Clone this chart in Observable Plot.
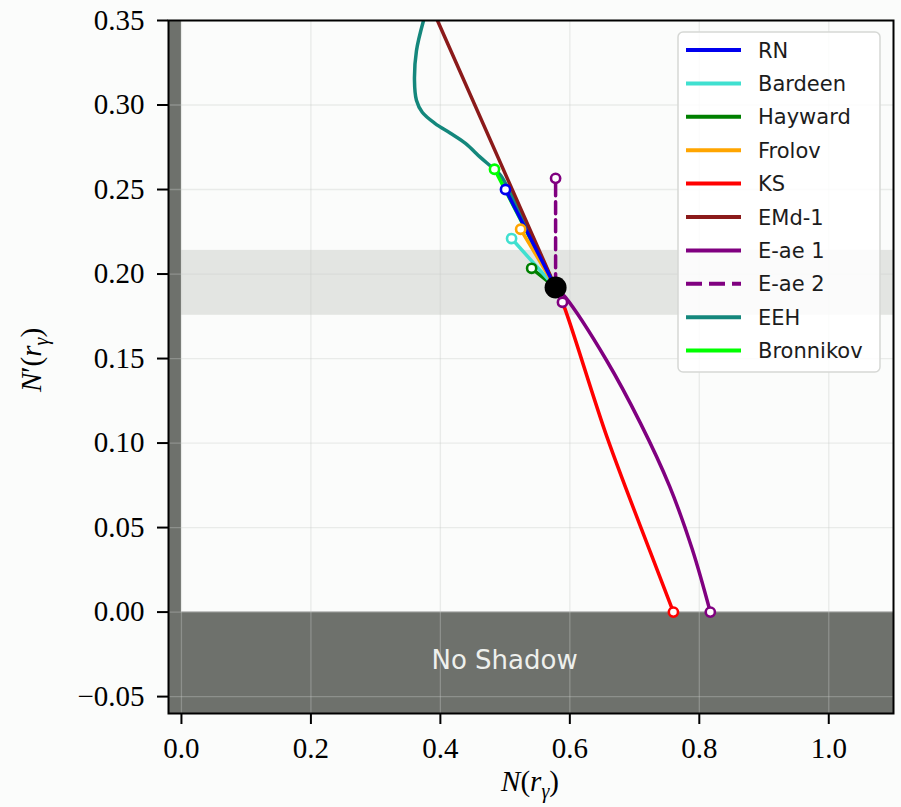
<!DOCTYPE html>
<html>
<head>
<meta charset="utf-8">
<script src="https://cdn.jsdelivr.net/npm/d3@7"></script>
<script src="https://cdn.jsdelivr.net/npm/@observablehq/plot@0.6"></script>
<style>
  html, body { margin: 0; padding: 0; background: #fbfcfb; }
  #chart { width: 901px; height: 807px; }
  #chart svg g[aria-label="x-axis tick label"] text,
  #chart svg g[aria-label="y-axis tick label"] text,
  #chart svg g[aria-label="x-axis tick label"],
  #chart svg g[aria-label="y-axis tick label"] {
    font-family: "Liberation Serif", "DejaVu Serif", serif !important;
    font-size: 29px !important;
  }
</style>
</head>
<body>
<div id="chart"></div>
<script>
// ---- data ----
const seriesNames  = ["RN", "Bardeen", "Hayward", "Frolov", "KS", "EMd-1", "E-ae 1", "E-ae 2", "EEH", "Bronnikov"];
const seriesColors = ["#0000ee", "#40e0d0", "#008000", "#ffa500", "#ff0000", "#8b1a1a", "#800080", "#800080", "#14877c", "#00ff00"];
const seriesDashed = [false, false, false, false, false, false, false, true, false, false];

// [N, N'] points
const RN        = [[0.578, 0.192], [0.5006, 0.250]];
const Bardeen   = [[0.578, 0.192], [0.510, 0.221]];
const Hayward   = [[0.578, 0.192], [0.541, 0.2034]];
const Frolov    = [[0.578, 0.192], [0.524, 0.2265]];
const KS        = [[0.578, 0.192], [0.589, 0.183], [0.658, 0.1029], [0.725, 0.0349], [0.760, 0.0]];
const EMd1      = [[0.578, 0.192], [0.3955, 0.350]];
const Eae1      = [[0.578, 0.192], [0.593, 0.1863], [0.6566, 0.149], [0.709, 0.1118], [0.754, 0.0745], [0.789, 0.0373], [0.817, 0.0]];
const Eae2      = [[0.5886, 0.1833], [0.578, 0.192], [0.578, 0.2566]];
const EEH       = [[0.578, 0.192], [0.539, 0.223], [0.493, 0.2584], [0.480, 0.263], [0.4619, 0.269], [0.4388, 0.2773],
                   [0.4156, 0.2833], [0.392, 0.289], [0.372, 0.2957], [0.363, 0.3028], [0.360, 0.3146], [0.363, 0.332], [0.374, 0.350]];
const Bronnikov = [[0.578, 0.192], [0.4836, 0.262]];

const commonPoint = [0.578, 0.192];
const bandLow = 0.1756, bandHigh = 0.214;
const xDomain = [-0.02, 1.1];
const yDomain = [-0.06, 0.35];
const xTicks = [0.0, 0.2, 0.4, 0.6, 0.8, 1.0];
const yTicks = [-0.05, 0.0, 0.05, 0.10, 0.15, 0.20, 0.25, 0.30, 0.35];
const shadowLabel = "No Shadow";
const shadowLabelPos = [0.5, -0.0285];

// ---- build ----
const seriesData = [RN, Bardeen, Hayward, Frolov, KS, EMd1, Eae1, Eae2, EEH, Bronnikov];
const series = seriesNames.map((name, i) => ({
  name, color: seriesColors[i], dashed: seriesDashed[i],
  pts: seriesData[i].map(([x, y]) => ({x, y}))
}));
const byName = Object.fromEntries(series.map(s => [s.name, s]));
const drawOrder = ["EEH", "Bronnikov", "EMd-1", "Hayward", "Bardeen", "Frolov", "RN", "KS", "E-ae 1", "E-ae 2"];

const lineMarks = drawOrder.map(n => {
  const s = byName[n];
  return Plot.line(s.pts, {
    x: "x", y: "y", stroke: s.color, strokeWidth: 3.5,
    strokeDasharray: s.dashed ? "12,6" : null,
    curve: s.pts.length > 3 ? "catmull-rom" : "linear", clip: true
  });
});

// open-circle end markers: last point of every series, plus first point of E-ae 2
const endMarkers = [];
series.forEach(s => {
  const p = s.pts[s.pts.length - 1];
  if (p.y < yDomain[1] - 1e-6) endMarkers.push({x: p.x, y: p.y, c: s.color});
  if (s.name === "E-ae 2") endMarkers.push({x: s.pts[0].x, y: s.pts[0].y, c: s.color});
});

const shade = [
  {x1: xDomain[0], x2: xDomain[1], y1: yDomain[0], y2: 0},
  {x1: xDomain[0], x2: 0, y1: yDomain[0], y2: yDomain[1]}
];
const band = [{x1: xDomain[0], x2: xDomain[1], y1: bandLow, y2: bandHigh}];

const svg = Plot.plot({
  width: 901, height: 807,
  marginLeft: 168, marginRight: 8, marginTop: 20, marginBottom: 94,
  x: {domain: xDomain},
  y: {domain: yDomain},
  marks: [
    Plot.frame({fill: "#fbfcfb", stroke: "none"}),
    Plot.rect(band, {x1: "x1", x2: "x2", y1: "y1", y2: "y2", fill: "#e3e5e2"}),
    Plot.rect(shade, {x1: "x1", x2: "x2", y1: "y1", y2: "y2", fill: "#6e716c"}),
    Plot.gridX(xTicks, {stroke: "#c9ccc8", strokeOpacity: 0.35, strokeWidth: 1.3}),
    Plot.gridY(yTicks, {stroke: "#c9ccc8", strokeOpacity: 0.35, strokeWidth: 1.3}),
    ...lineMarks,
    Plot.dot([commonPoint], {x: d => d[0], y: d => d[1], r: 11, fill: "black", stroke: "none"}),
    Plot.dot(endMarkers, {x: "x", y: "y", r: 4.6, fill: "white", stroke: "c", strokeWidth: 2.6}),
    Plot.frame({stroke: "black", strokeWidth: 2}),
    Plot.axisX(xTicks, {tickSize: 11, tickPadding: 13, strokeWidth: 2, label: null,
      fontSize: 29, fontFamily: "Liberation Serif",
      tickFormat: d => d.toFixed(1)}),
    Plot.axisY(yTicks, {tickSize: 11, tickPadding: 13, strokeWidth: 2, label: null,
      fontSize: 29, fontFamily: "Liberation Serif",
      tickFormat: d => d.toFixed(2).replace("-", "\u2212")})
  ]
});
document.getElementById("chart").appendChild(svg);

const sel = d3.select(svg);
sel.selectAll('[aria-label="x-axis tick label"] text, [aria-label="y-axis tick label"] text')
  .attr("font-family", "Liberation Serif").attr("font-size", 29);

// "No Shadow" label positioned through the plot's scales
const sx = svg.scale("x"), sy = svg.scale("y");
sel.append("text")
  .attr("x", sx.apply(shadowLabelPos[0])).attr("y", sy.apply(shadowLabelPos[1]))
  .attr("dy", "0.35em").attr("text-anchor", "middle")
  .attr("font-family", "DejaVu Sans").attr("font-size", 26).attr("fill", "#eef0ed")
  .text(shadowLabel);

// ---- legend (inside plot, top-right) ----
const lg = sel.append("g").attr("text-anchor", "start");
lg.append("rect").attr("x", 678).attr("y", 32).attr("width", 202).attr("height", 340)
  .attr("rx", 5).attr("fill", "white").attr("fill-opacity", 0.85)
  .attr("stroke", "#d6d8d5").attr("stroke-width", 1.5);
series.forEach((s, i) => {
  const y = 50 + i * 33.4;
  lg.append("line").attr("x1", 686).attr("x2", 741).attr("y1", y).attr("y2", y)
    .attr("stroke", s.color).attr("stroke-width", 4)
    .attr("stroke-dasharray", s.dashed ? "16,7" : null);
  lg.append("text").attr("x", 758).attr("y", y + 7.5).text(s.name)
    .attr("text-anchor", "start")
    .attr("font-family", "DejaVu Sans").attr("font-size", 21).attr("fill", "#1c1c1c");
});

// ---- axis labels ----
const xl = sel.append("text").attr("x", 530).attr("y", 791).attr("text-anchor", "middle")
  .attr("font-family", "Liberation Serif").attr("font-size", 29).attr("fill", "black");
xl.append("tspan").attr("font-style", "italic").text("N");
xl.append("tspan").text("(");
xl.append("tspan").attr("font-style", "italic").text("r");
xl.append("tspan").attr("font-style", "italic").attr("font-size", 20).attr("dy", 7).text("γ");
xl.append("tspan").attr("dy", -7).text(")");

const yl = sel.append("text").attr("transform", "translate(41,360) rotate(-90)").attr("text-anchor", "middle")
  .attr("font-family", "Liberation Serif").attr("font-size", 29).attr("fill", "black");
yl.append("tspan").attr("font-style", "italic").text("N");
yl.append("tspan").text("′(");
yl.append("tspan").attr("font-style", "italic").text("r");
yl.append("tspan").attr("font-style", "italic").attr("font-size", 20).attr("dy", 7).text("γ");
yl.append("tspan").attr("dy", -7).text(")");
</script>
</body>
</html>
